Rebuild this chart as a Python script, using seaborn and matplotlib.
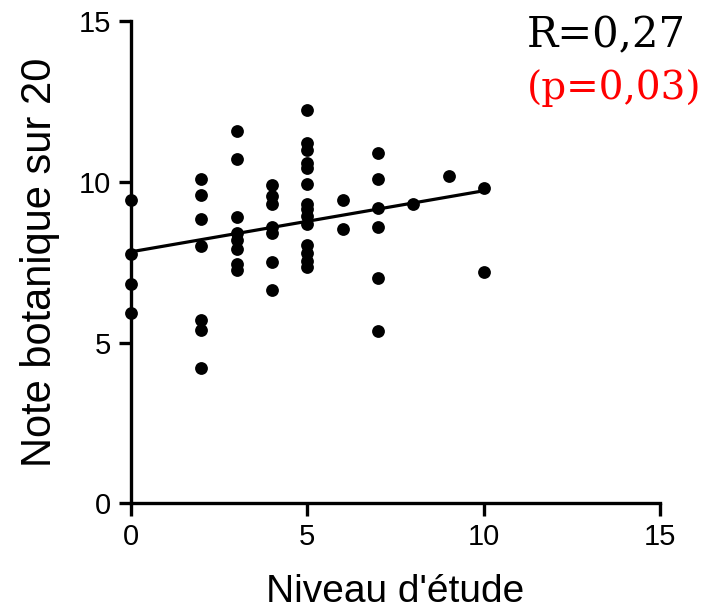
import matplotlib
matplotlib.use("Agg")
import matplotlib.pyplot as plt
import seaborn as sns
import pandas as pd

# Data
x0 = [9.45, 7.75, 6.82, 5.92]
x2 = [10.1, 9.6, 8.85, 8.0, 5.7, 5.4, 4.2]
x3 = [11.6, 10.7, 8.9, 8.4, 8.2, 7.9, 7.45, 7.25]
x4 = [9.9, 9.55, 9.3, 8.6, 8.4, 7.5, 6.65]
x5 = [12.25, 11.2, 11.0, 10.6, 10.45, 9.95, 9.3, 9.15, 8.95, 8.7, 8.05, 7.8, 7.55, 7.35]
x6 = [9.45, 8.55]
x7 = [10.9, 10.1, 9.2, 8.6, 7.0, 5.35]
x8 = [9.3]
x9 = [10.2]
x10 = [9.8, 7.2]

groups = {0: x0, 2: x2, 3: x3, 4: x4, 5: x5, 6: x6, 7: x7, 8: x8, 9: x9, 10: x10}
niveau = []
note = []
for k, vals in groups.items():
    niveau += [k] * len(vals)
    note += vals
df = pd.DataFrame({"niveau": niveau, "note": note})

xticks = [0, 5, 10, 15]
yticks = [0, 5, 10, 15]

sns.set_style("ticks")
plt.rcParams['font.family'] = ['Liberation Sans', 'DejaVu Sans']

fig = plt.figure(figsize=(7.07, 6.12), dpi=100)
ax = fig.add_axes([0.185, 0.178, 0.749, 0.787])

sns.regplot(data=df, x="niveau", y="note", ax=ax, ci=None, truncate=True,
            scatter_kws=dict(s=85, color="black", alpha=1, clip_on=False, zorder=3, linewidths=0),
            line_kws=dict(color="black", lw=2.3))

ax.set_xlim(0, 15)
ax.set_ylim(0, 15)
ax.set_xticks(xticks)
ax.set_yticks(yticks)
ax.tick_params(axis="both", width=2.4, length=9, labelsize=21, direction="out",
               pad=5, colors="black")
for s in ["top", "right"]:
    ax.spines[s].set_visible(False)
for s in ["left", "bottom"]:
    ax.spines[s].set_linewidth(2.4)
    ax.spines[s].set_color("black")

ax.set_xlabel("Niveau d'étude", fontsize=28, labelpad=17, color="black")
ax.set_ylabel("Note botanique sur 20", fontsize=30, labelpad=14, color="black")

fig.text(0.745, 0.943, "R=0,27", fontsize=30, family=["DejaVu Serif"], ha="left", va="center", color="black")
fig.text(0.745, 0.856, "(p=0,03)", fontsize=28, family=["DejaVu Serif"], ha="left", va="center", color="red")

fig.savefig("out.png", dpi=100)
